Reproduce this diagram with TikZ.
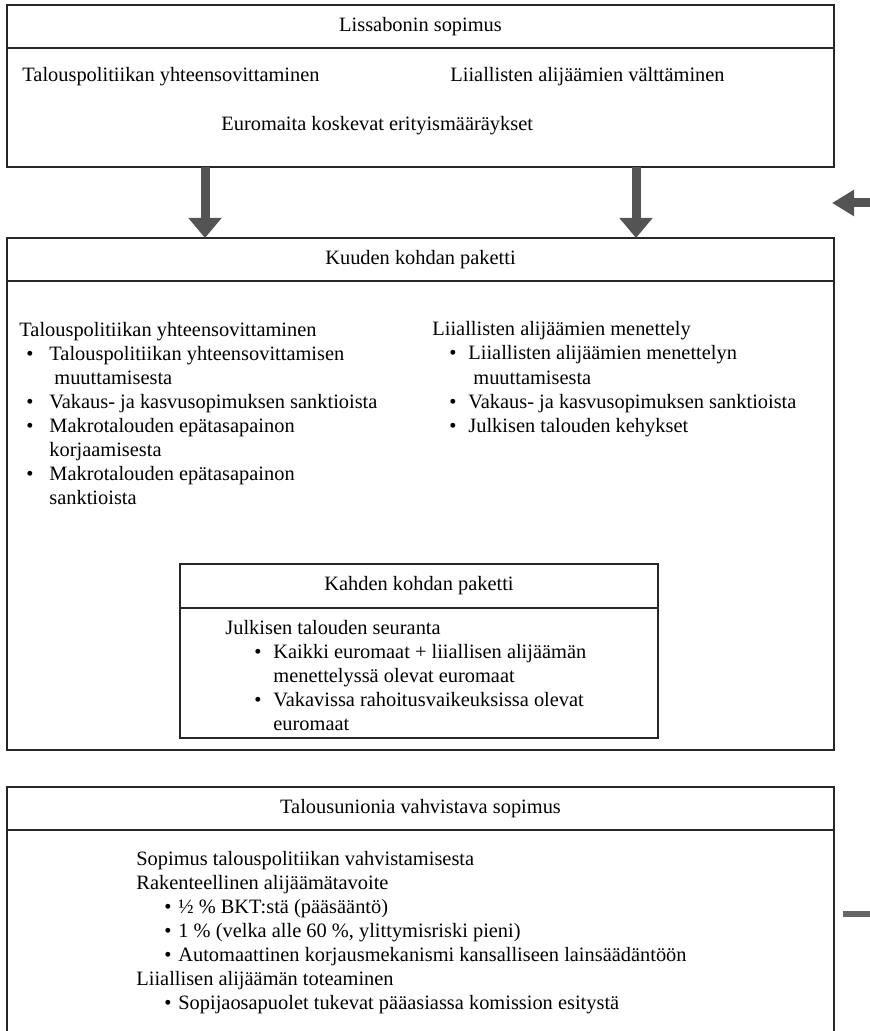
\documentclass[tikz,border=0pt]{standalone}
\usepackage{fontspec}
\setmainfont{Liberation Serif}
\usetikzlibrary{arrows.meta,positioning}
\newcommand{\bul}[2]{\makebox[#2][l]{\hspace*{#1}\textbullet}}
\tikzset{
  panel/.style={draw=black!85, line width=.7pt, inner sep=0pt, outer sep=0pt, minimum width=413.5pt},
  headbox/.style={panel, minimum height=21.5pt, font=\fontsize{10.2pt}{12pt}\selectfont},
  txt/.style={anchor=base west, align=left, inner sep=0pt, font=\fontsize{10.2pt}{12pt}\selectfont},
  bigarrow/.style={draw=black!67, line width=4.5pt, -{Triangle[width=16pt,length=10pt]}},
  sidearrow/.style={draw=black!67, line width=4.5pt, -{Triangle[width=12.5pt,length=11pt]}},
  sidebar/.style={draw=black!60, line width=2.8pt}
}
\begin{document}
\begin{tikzpicture}[x=0.5pt, y=-0.5pt, node distance=0pt]
  \useasboundingbox (0,0) rectangle (870,1031);
  % Lissabonin sopimus
  \node[headbox, anchor=north west] (lisshead) at (7,5) {Lissabonin sopimus};
  \node[panel, below=of lisshead, minimum height=59.5pt] (lissbody) {};
  \node[txt] (lissA) at (22,82) {Talouspolitiikan yhteensovittaminen};
  \node[txt] (lissB) at (450,82) {Liiallisten alijäämien välttäminen};
  \node[txt] (lissC) at (221,131) {Euromaita koskevat erityismääräykset};
  % Kuuden kohdan paketti (base = last line)
  \node[headbox, anchor=north west] (kuusihead) at (7,238) {Kuuden kohdan paketti};
  \node[panel, below=of kuusihead, minimum height=234.5pt] (kuusibody) {};
  \node[txt] (kuusiL) at (19,504) {Talouspolitiikan yhteensovittaminen\\
    \bul{3.5pt}{15pt}Talouspolitiikan yhteensovittamisen\\
    \hspace*{17.5pt}muuttamisesta\\
    \bul{3.5pt}{15pt}Vakaus- ja kasvusopimuksen sanktioista\\
    \bul{3.5pt}{15pt}Makrotalouden epätasapainon\\
    \hspace*{15pt}korjaamisesta\\
    \bul{3.5pt}{15pt}Makrotalouden epätasapainon\\
    \hspace*{15pt}sanktioista};
  \node[txt] (kuusiR) at (432,432) {Liiallisten alijäämien menettely\\
    \bul{8.5pt}{18pt}Liiallisten alijäämien menettelyn\\
    \hspace*{20.5pt}muuttamisesta\\
    \bul{8.5pt}{18pt}Vakaus- ja kasvusopimuksen sanktioista\\
    \bul{8.5pt}{18pt}Julkisen talouden kehykset};
  % Kahden kohdan paketti
  \node[headbox, anchor=north west, minimum width=239pt, minimum height=22pt] (kaksihead) at (180,564) {Kahden kohdan paketti};
  \node[panel, below=of kaksihead, minimum width=239pt, minimum height=65pt] (kaksibody) {};
  \node[txt] (kaksiT) at (225,730) {Julkisen talouden seuranta\\
    \bul{14.5pt}{24pt}Kaikki euromaat + liiallisen alijäämän\\
    \hspace*{24pt}menettelyssä olevat euromaat\\
    \bul{14.5pt}{24pt}Vakavissa rahoitusvaikeuksissa olevat\\
    \hspace*{24pt}euromaat};
  % Talousunionia vahvistava sopimus (runs off the page bottom)
  \node[headbox, anchor=north west] (unionhead) at (7,787) {Talousunionia vahvistava sopimus};
  \node[panel, below=of unionhead, minimum height=130pt] (unionbody) {};
  \node[txt] (unionT) at (136,1009) {Sopimus talouspolitiikan vahvistamisesta\\
    Rakenteellinen alijäämätavoite\\
    \bul{14pt}{21pt}½ \% BKT:stä (pääsääntö)\\
    \bul{14pt}{21pt}1 \% (velka alle 60 \%, ylittymisriski pieni)\\
    \bul{14pt}{21pt}Automaattinen korjausmekanismi kansalliseen lainsäädäntöön\\
    Liiallisen alijäämän toteaminen\\
    \bul{14pt}{21pt}Sopijaosapuolet tukevat pääasiassa komission esitystä};
  % arrows
  \coordinate (colA) at (205,0);
  \coordinate (colB) at (636,0);
  \draw[bigarrow] (lissbody.south -| colA) -- (kuusihead.north -| colA);
  \draw[bigarrow] (lissbody.south -| colB) -- (kuusihead.north -| colB);
  \coordinate (sidetail) at (890,203);
  \coordinate (sidetip) at (832,203);
  \draw[sidearrow] (sidetail) -- (sidetip);
  \coordinate (barL) at (843,914);
  \coordinate (barR) at (890,914);
  \draw[sidebar] (barL) -- (barR);
\end{tikzpicture}
\end{document}
